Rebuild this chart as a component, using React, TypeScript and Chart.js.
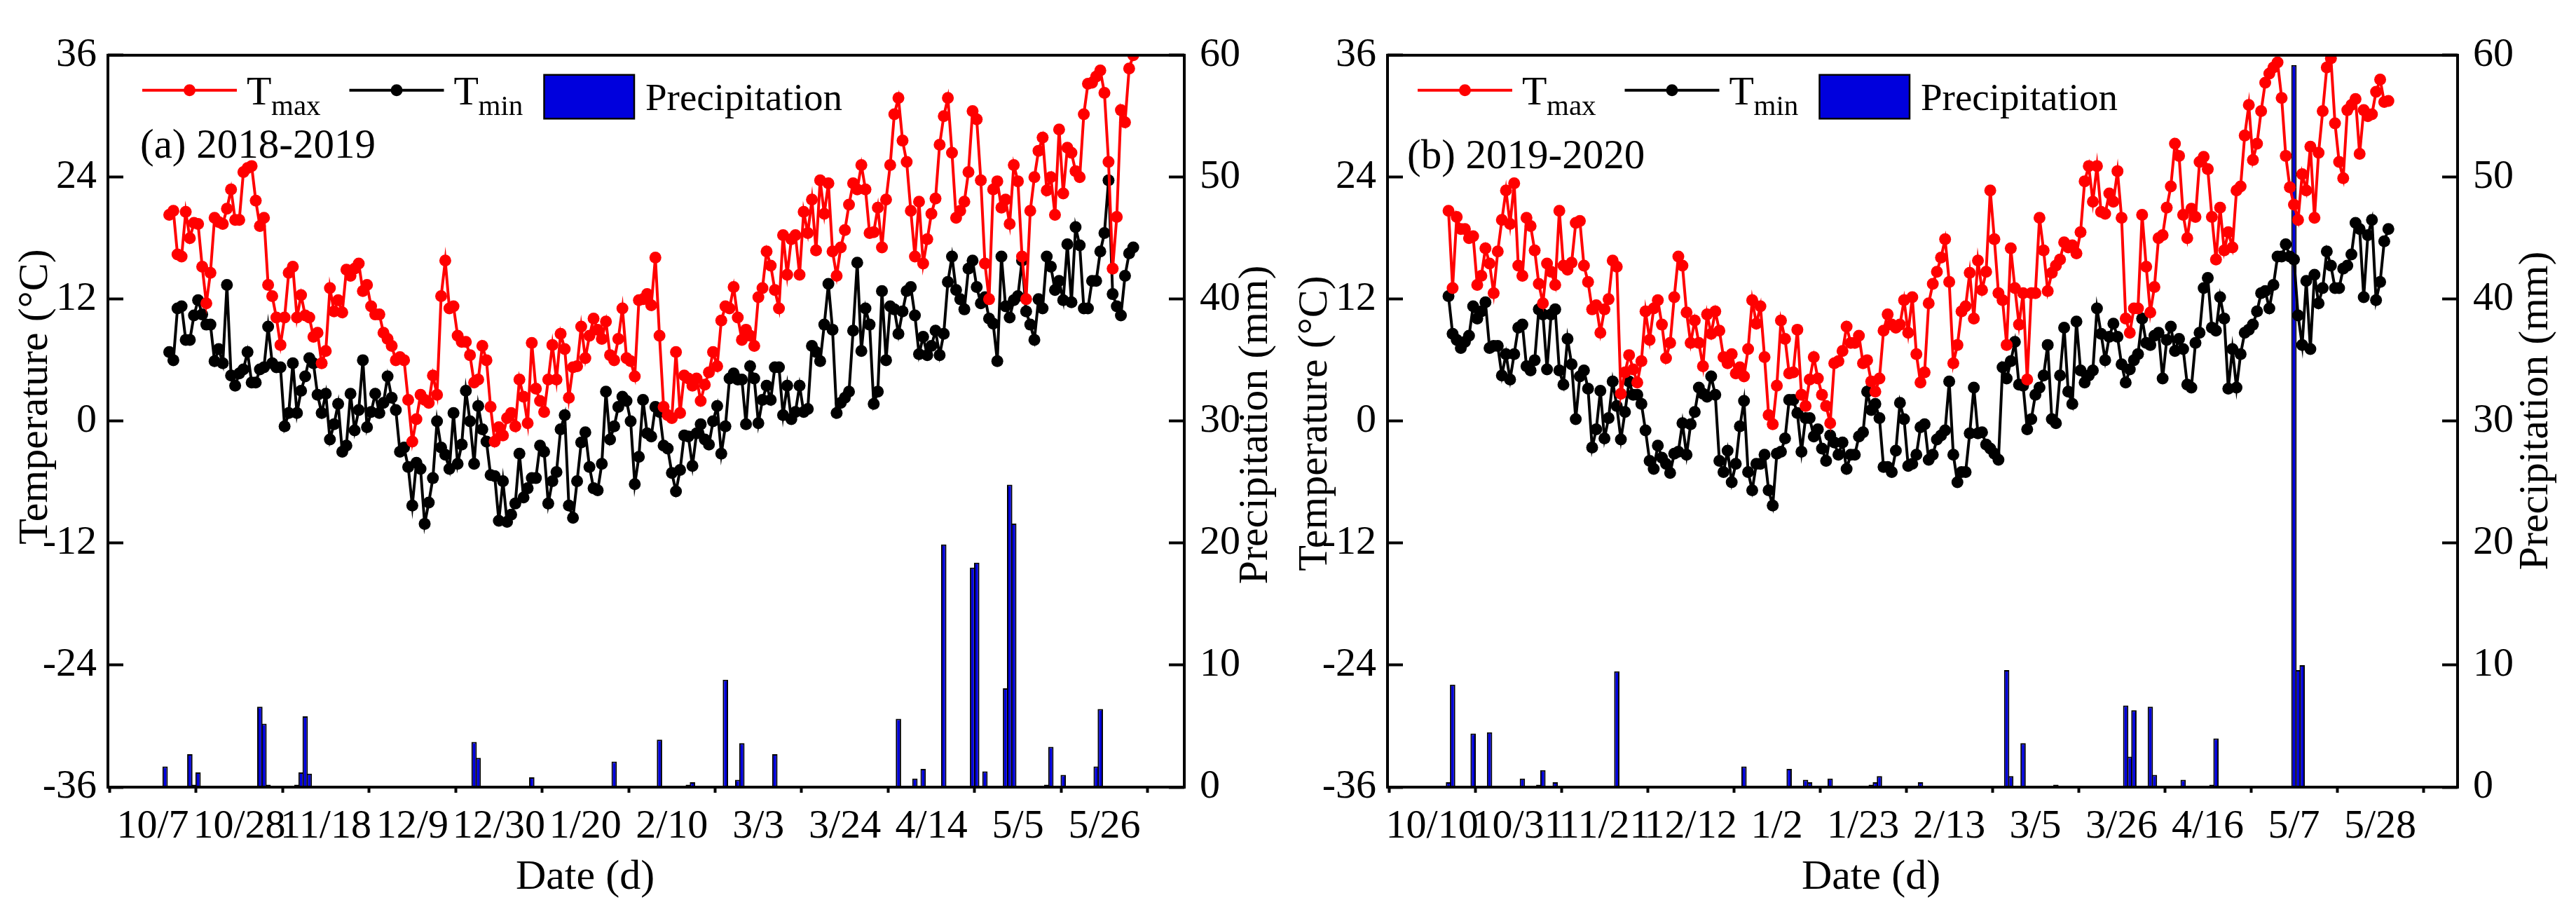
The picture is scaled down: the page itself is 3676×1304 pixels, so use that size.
import React, { useEffect, useRef } from "react";
import { Chart, registerables } from "chart.js";

Chart.register(...registerables);

const SERIF = "'Liberation Serif', 'Times New Roman', Times, serif";
const RED = "#ff0000";
const BLACK = "#000000";
const BLUE = "#0000dd";

const W = 1838;
const H = 1304;
const PLOT_TOP = 47;
const PLOT_BOTTOM = 1123;

const TICK_STEP_DAYS = 21;
const tempTicks = [-36, -24, -12, 0, 12, 24, 36];
const rainTicks = [0, 10, 20, 30, 40, 50, 60];
const legendNames = [["T", "max"], ["T", "min"], ["Precipitation", ""]];

// ---------- (a) 2018-2019 : day 0 = 10/7 ----------
const dateTicksA = ["10/7", "10/28", "11/18", "12/9", "12/30", "1/20", "2/10", "3/3", "3/24", "4/14", "5/5", "5/26"];
const firstDayA = 4;
const tmaxA = [
  20.3, 20.7, 16.4, 16.2, 20.6, 18.0, 19.5, 19.4, 15.2, 11.6,
  14.6, 20.0, 19.6, 19.4, 20.9, 22.8, 19.8, 19.8, 24.5, 24.9,
  25.1, 21.7, 19.2, 20.0, 13.4, 12.3, 10.2, 7.5, 10.2, 14.6,
  15.2, 10.2, 12.4, 10.4, 10.2, 8.3, 8.7, 5.7, 6.9, 13.1,
  10.8, 11.9, 10.7, 14.9, 14.3, 15.0, 15.5, 12.8, 13.4, 11.3,
  10.5, 10.5, 8.7, 8.1, 7.4, 6.0, 6.3, 6.0, 2.1, -2.0,
  0.2, 2.6, 2.1, 1.8, 4.5, 2.6, 12.3, 15.8, 11.1, 11.3,
  8.4, 7.8, 7.8, 6.5, 3.8, 4.1, 7.4, 6.0, 1.4, -2.0,
  -0.6, -1.4, 0.3, 0.8, -0.5, 4.1, 2.4, -0.2, 7.7, 3.2,
  2.0, 0.9, 4.1, 7.5, 4.1, 8.6, 7.1, 2.3, 5.3, 5.4,
  9.3, 6.2, 8.4, 10.1, 9.0, 8.1, 9.8, 6.5, 6.0, 8.1,
  11.1, 6.2, 5.9, 4.4, 11.9, 12.0, 12.5, 11.4, 16.1,
  8.4, 1.4, 0.6, 0.3, 6.8, 0.8, 4.5, 4.2, 3.5, 4.2,
  2.0, 3.6, 4.8, 6.8, 5.4, 9.9, 11.3, 11.1, 13.2, 10.2,
  8.0, 9.0, 8.4, 7.4, 12.2, 13.1, 16.7, 15.3, 12.9, 11.1,
  18.3, 14.4, 17.9, 18.3, 14.4, 20.6, 18.5, 21.8, 16.8, 23.7,
  20.4, 23.4, 16.7, 14.3, 17.1, 18.8, 21.3, 23.4, 22.8, 25.2,
  22.8, 18.5, 18.6, 21.0, 17.1, 21.8, 25.2, 30.2, 31.8, 27.6,
  25.5, 20.7, 16.2, 21.6, 15.5, 17.9, 20.4, 21.9, 27.2, 30.0,
  31.8, 26.4, 20.0, 20.7, 21.6, 24.5, 30.5, 29.7, 23.7, 15.5,
  12.0, 22.8, 23.6, 21.0, 21.8, 19.4, 25.2, 23.6, 16.2, 12.0,
  20.7, 24.0, 26.6, 27.9, 22.7, 24.0, 20.3, 28.7, 22.4, 26.9,
  26.4, 24.6, 24.0, 30.2, 33.2, 33.3, 33.9, 34.5, 32.3, 25.5,
  15.0, 20.1, 30.6, 29.4, 34.7, 36.0,
];
const tminA = [
  6.8, 6.0, 11.1, 11.3, 8.0, 8.0, 10.4, 11.9, 10.5, 9.5,
  9.5, 5.9, 7.1, 5.7, 13.4, 4.5, 3.5, 4.7, 5.1, 6.8,
  3.8, 3.8, 5.1, 5.3, 9.3, 5.7, 5.3, 5.3, -0.5, 0.8,
  5.7, 0.8, 3.0, 4.4, 6.2, 5.7, 2.6, 0.8, 2.7, -1.8,
  -0.3, 1.7, -3.0, -2.4, 2.7, -0.9, 1.1, 6.0, -0.6, 0.9,
  2.7, 0.8, 1.8, 4.4, 2.3, 1.1, -3.0, -2.6, -4.5, -8.3,
  -4.1, -4.7, -10.1, -8.0, -5.6, 0.0, -2.6, -3.3, -4.7, 0.8,
  -4.2, -2.3, 3.0, 0.0, -4.2, 1.5, -0.8, -2.0, -5.3, -5.4,
  -9.8, -5.9, -9.9, -9.2, -8.1, -3.2, -7.5, -6.6, -5.6, -5.6,
  -2.4, -3.0, -8.1, -5.9, -5.0, -0.8, 0.6, -8.3, -9.5, -5.9,
  -2.1, -1.1, -4.5, -6.6, -6.8, -4.2, 2.9, -1.8, -0.5, 1.4,
  2.4, 2.0, 0.0, -6.2, -3.5, 2.1, -1.2, -1.5, 1.4,
  0.9, -2.4, -2.7, -5.1, -6.9, -4.8, -1.4, -1.5, -4.4, -1.2,
  -0.3, -1.8, -2.3, 0.0, 1.5, -3.2, -0.5, 4.2, 4.7, 4.1,
  4.1, -0.3, 5.4, 4.2, -0.2, 2.1, 3.5, 2.1, 5.3, 5.3,
  0.6, 3.5, 0.2, 0.9, 3.5, 0.9, 1.2, 7.4, 6.8, 5.9,
  9.5, 13.5, 9.0, 0.8, 1.8, 2.3, 2.9, 8.9, 15.6, 6.9,
  11.1, 9.5, 1.7, 2.9, 12.8, 6.0, 11.3, 11.0, 8.6, 10.8,
  12.8, 13.2, 10.4, 6.6, 8.3, 6.5, 7.4, 8.9, 6.5, 8.6,
  13.7, 16.2, 12.9, 12.0, 11.0, 15.0, 15.8, 13.2, 11.6, 12.2,
  10.1, 9.6, 5.9, 16.2, 11.3, 10.2, 11.9, 12.3, 15.8, 10.8,
  9.5, 8.0, 12.0, 11.1, 16.2, 15.2, 12.9, 13.8, 11.9, 17.4,
  11.7, 19.1, 17.3, 11.1, 11.1, 13.8, 13.8, 16.7, 18.5, 23.7,
  12.5, 11.3, 10.4, 14.3, 16.5, 17.1,
];
const rainDayA = [3, 9, 10, 11, 26, 27, 28, 31, 35, 36, 37, 38, 78, 79, 92, 112, 123, 130, 131, 139, 142, 143, 151, 174, 181, 183, 184, 185, 187, 192, 199, 200, 202, 207, 208, 209, 216, 217, 218, 221, 229, 230];
const rainA = [1.7, 2.7, 0.2, 1.2, 6.6, 5.2, 0.2, 0.1, 0.2, 1.2, 5.8, 1.1, 3.7, 2.4, 0.8, 2.1, 3.9, 0.2, 0.4, 8.8, 0.6, 3.6, 2.7, 0.1, 5.6, 0.1, 0.1, 0.7, 1.5, 19.9, 18.0, 18.4, 1.3, 8.1, 24.8, 21.6, 0.1, 0.2, 3.3, 1.0, 1.7, 6.4];

// ---------- (b) 2019-2020 : day 0 = 10/10 ----------
const dateTicksB = ["10/10", "10/31", "11/21", "12/12", "1/2", "1/23", "2/13", "3/5", "3/26", "4/16", "5/7", "5/28"];
const firstDayB = 4;
const tmaxB = [
  20.7, 13.1, 20.1, 18.9, 18.9, 18.0, 18.2, 13.4, 14.3, 17.0,
  15.5, 12.6, 16.7, 19.8, 22.7, 19.4, 23.4, 15.3, 14.3, 20.0,
  19.2, 16.8, 13.5, 11.6, 15.5, 14.7, 13.4, 20.7, 15.3, 14.9,
  15.6, 19.5, 19.7, 15.3, 13.7, 11.0, 11.4, 8.7, 11.0, 12.0,
  15.8, 15.2, 2.7, 4.8, 6.5, 5.1, 3.8, 5.9, 10.8, 8.0,
  11.1, 11.9, 9.5, 6.2, 7.7, 12.2, 16.2, 15.3, 10.7, 7.7,
  9.9, 7.7, 5.4, 10.5, 8.6, 10.8, 8.9, 6.3, 5.7, 6.6,
  4.7, 5.3, 4.4, 7.1, 11.9, 9.6, 11.3, 6.3, 0.6, -0.3,
  3.5, 9.9, 8.1, 4.7, 4.8, 9.0, 2.6, 1.5, 4.1, 6.3,
  4.2, 2.6, 1.5, -0.2, 5.7, 5.9, 6.9, 9.3, 7.7, 7.7,
  8.4, 5.7, 6.0, 3.9, 2.9, 4.2, 8.9, 10.5, 9.5, 9.2,
  9.5, 11.9, 8.7, 12.2, 6.6, 3.8, 4.8, 11.6, 13.5, 14.7,
  16.1, 17.9, 13.7, 5.7, 7.5, 10.8, 11.3, 14.6, 10.1, 15.8,
  12.9, 14.7, 22.7, 17.9, 12.6, 11.9, 7.5, 17.0, 13.1, 9.5,
  12.6, 4.1, 12.6, 12.6, 20.0, 16.8, 12.8, 14.6, 15.3, 15.9,
  17.6, 17.1, 17.3, 16.5, 18.6, 23.6, 25.1, 21.6, 25.1, 20.6,
  20.4, 22.4, 21.6, 24.6, 20.0, 10.1, 8.7, 11.1, 11.1, 20.3,
  15.2, 10.7, 13.2, 18.0, 18.3, 21.0, 23.1, 27.3, 26.1, 20.3,
  18.0, 20.9, 20.1, 25.5, 26.0, 24.8, 20.1, 15.9, 21.0, 16.8,
  18.6, 17.1, 22.7, 23.1, 28.1, 31.1, 25.7, 27.3, 30.5, 33.3,
  34.2, 34.8, 35.3, 31.8, 26.1, 23.0, 21.3, 19.8, 24.3, 22.7,
  27.0, 20.0, 26.4, 30.5, 34.8, 35.7, 29.3, 25.5, 23.9, 30.6,
  31.1, 31.7, 26.3, 30.6, 30.0, 30.2, 32.4, 33.6, 31.4, 31.5,
];
const tminB = [
  12.3, 8.6, 8.0, 7.2, 7.8, 8.4, 11.3, 10.1, 10.8, 11.7,
  7.2, 7.4, 7.4, 4.5, 6.6, 4.1, 6.6, 9.2, 9.5, 5.4,
  5.0, 6.0, 11.0, 10.5, 5.1, 10.5, 11.0, 5.0, 3.6, 8.1,
  5.6, 0.2, 4.4, 5.0, 3.2, -2.6, -0.8, 3.0, -1.7, 0.3,
  3.9, 1.5, -1.8, 0.9, 3.9, 2.6, 2.6, 1.7, -0.9, -3.9,
  -4.7, -2.4, -3.6, -4.2, -5.1, -3.2, -3.0, -0.2, -3.3, -0.3,
  0.9, 3.3, 2.7, 2.4, 4.4, 2.6, -3.9, -5.0, -2.9, -6.0,
  -4.2, -0.5, 2.0, -5.0, -6.8, -4.2, -4.2, -3.3, -6.8, -8.3,
  -3.2, -3.0, -1.7, 2.1, 2.1, 0.8, -3.0, 0.3, 0.3, -1.5,
  -0.8, -2.7, -3.9, -1.4, -2.1, -3.3, -2.1, -4.7, -3.3, -3.3,
  -1.5, -1.1, 2.9, 1.1, 1.7, 0.3, -4.5, -4.5, -5.0, -2.9,
  1.8, 0.2, -4.4, -4.2, -3.3, -0.6, -0.3, -3.8, -3.3, -1.8,
  -1.4, -0.9, 3.9, -3.3, -6.0, -5.0, -5.0, -1.2, 3.3, -1.2,
  -1.1, -2.3, -2.7, -3.2, -3.8, 5.3, 4.2, 5.9, 7.8, 3.6,
  3.5, -0.8, 0.2, 2.6, 3.3, 4.5, 7.5, 0.2, -0.2, 4.5,
  9.2, 2.9, 1.7, 9.8, 5.0, 3.8, 4.5, 5.0, 11.1, 8.6,
  6.0, 8.3, 9.6, 8.3, 5.6, 3.8, 5.1, 6.0, 6.6, 10.1,
  7.7, 7.5, 8.4, 8.7, 4.2, 8.0, 9.3, 6.9, 8.1, 7.1,
  3.6, 3.3, 7.7, 8.7, 13.1, 14.1, 9.2, 8.9, 12.2, 10.1,
  3.2, 7.1, 3.3, 6.6, 8.7, 9.0, 9.5, 10.8, 12.6, 12.8,
  11.1, 13.4, 16.2, 16.2, 17.4, 16.2, 15.9, 10.4, 7.5, 13.8,
  7.1, 14.4, 11.6, 13.1, 16.7, 15.3, 13.1, 13.1, 15.0, 15.3,
  16.4, 19.5, 18.9, 12.2, 18.3, 19.8, 11.9, 13.7, 17.7, 18.9,
];
const rainDayB = [4, 5, 6, 10, 14, 22, 26, 27, 30, 38, 45, 76, 87, 91, 92, 97, 106, 107, 108, 109, 118, 119, 140, 141, 144, 152, 169, 170, 171, 175, 176, 183, 190, 191, 210, 211, 212];
const rainB = [0.4, 8.4, 0.1, 4.4, 4.5, 0.7, 0.2, 1.4, 0.4, 0.1, 9.5, 1.7, 1.5, 0.6, 0.4, 0.7, 0.1, 0.2, 0.4, 0.9, 0.1, 0.4, 9.6, 0.9, 3.6, 0.2, 6.7, 2.5, 6.3, 6.6, 1.0, 0.6, 0.2, 4.0, 59.2, 9.6, 10.0];

type PanelSpec = {
  id: string;
  label: string;
  dates: string[];
  first: number;
  tmax: number[];
  tmin: number[];
  rainDay: number[];
  rain: number[];
  span: number;
  canvasLeft: number;
  plotLeft: number;
  plotRight: number;
  legendDx: number;
  labelDx: number;
  labelDy: number;
  tempTitleY: number;
  rainTitleY: number;
  rainTitleDx: number;
  dateTitleDx: number;
};

const panels: PanelSpec[] = [
  {
    id: "a", label: "(a) 2018-2019", dates: dateTicksA, first: firstDayA,
    tmax: tmaxA, tmin: tminA, rainDay: rainDayA, rain: rainA, span: 239.5,
    canvasLeft: 0, plotLeft: 154, plotRight: 1690,
    legendDx: 49, labelDx: 46, labelDy: 146, tempTitleY: 566, rainTitleY: 606, rainTitleDx: 102, dateTitleDx: 681,
  },
  {
    id: "b", label: "(b) 2019-2020", dates: dateTicksB, first: firstDayB,
    tmax: tmaxB, tmin: tminB, rainDay: rainDayB, rain: rainB, span: 239,
    canvasLeft: 1838, plotLeft: 142, plotRight: 1669,
    legendDx: 43, labelDx: 28, labelDy: 161, tempTitleY: 604, rainTitleY: 586, rainTitleDx: 112, dateTitleDx: 690,
  },
];

function Panel({ p }: { p: PanelSpec }) {
  const ref = useRef<HTMLCanvasElement | null>(null);

  useEffect(() => {
    const canvas = ref.current;
    if (!canvas) return;

    const decor = {
      id: "decor_" + p.id,
      afterDraw(chart: any) {
        const ctx: CanvasRenderingContext2D = chart.ctx;
        const a = chart.chartArea;
        ctx.save();
        // frame
        ctx.strokeStyle = BLACK;
        ctx.lineWidth = 4;
        ctx.strokeRect(a.left, a.top, a.right - a.left, a.bottom - a.top);

        // legend
        const L = a.left + p.legendDx;
        const T = a.top;
        const lineY = T + 50;
        const lineColors = [RED, BLACK];
        const lineOffsets = [0, 295.5];
        for (let i = 0; i < 2; i++) {
          const x0 = L + lineOffsets[i];
          ctx.strokeStyle = lineColors[i];
          ctx.fillStyle = lineColors[i];
          ctx.lineWidth = 4;
          ctx.beginPath();
          ctx.moveTo(x0, lineY);
          ctx.lineTo(x0 + 135, lineY);
          ctx.stroke();
          ctx.beginPath();
          ctx.arc(x0 + 67.5, lineY, 8.5, 0, Math.PI * 2);
          ctx.fill();
          ctx.fillStyle = BLACK;
          ctx.textAlign = "left";
          ctx.textBaseline = "alphabetic";
          ctx.font = `58px ${SERIF}`;
          ctx.fillText(legendNames[i][0], x0 + 149, T + 70);
          ctx.font = `41px ${SERIF}`;
          ctx.fillText(legendNames[i][1], x0 + 184, T + 85);
        }
        const bx = L + 573.5;
        ctx.fillStyle = BLUE;
        ctx.fillRect(bx, T + 28, 128.5, 62.5);
        ctx.strokeStyle = BLACK;
        ctx.lineWidth = 2.5;
        ctx.strokeRect(bx, T + 28, 128.5, 62.5);
        ctx.fillStyle = BLACK;
        ctx.font = `55px ${SERIF}`;
        ctx.fillText(legendNames[2][0], L + 718, T + 78);

        // panel label
        ctx.font = `59px ${SERIF}`;
        ctx.fillText(p.label, a.left + p.labelDx, T + p.labelDy);

        // axis titles
        ctx.font = `60px ${SERIF}`;
        ctx.textAlign = "center";
        ctx.fillText("Date (d)", a.left + p.dateTitleDx, a.bottom + 145);

        ctx.textBaseline = "middle";
        ctx.save();
        ctx.translate(a.left - 103, p.tempTitleY);
        ctx.rotate(-Math.PI / 2);
        ctx.fillText("Temperature (°C)", 0, 0);
        ctx.restore();

        ctx.save();
        ctx.translate(a.right + p.rainTitleDx, p.rainTitleY);
        ctx.rotate(-Math.PI / 2);
        ctx.fillText("Precipitation (mm)", 0, 0);
        ctx.restore();

        ctx.restore();
      },
    };

    const tickFont = { family: SERIF, size: 58 };

    const chart = new Chart(canvas, {
      type: "line",
      data: {
        datasets: [
          {
            type: "line",
            label: "Tmax",
            data: p.tmax.map((y, i) => ({ x: p.first + i, y })),
            borderColor: RED,
            backgroundColor: RED,
            borderWidth: 4,
            pointRadius: 8.5,
            pointHoverRadius: 8.5,
            pointBackgroundColor: RED,
            pointBorderWidth: 0,
            tension: 0,
            yAxisID: "y",
          },
          {
            type: "line",
            label: "Tmin",
            data: p.tmin.map((y, i) => ({ x: p.first + i, y })),
            borderColor: BLACK,
            backgroundColor: BLACK,
            borderWidth: 4,
            pointRadius: 8.5,
            pointHoverRadius: 8.5,
            pointBackgroundColor: BLACK,
            pointBorderWidth: 0,
            tension: 0,
            yAxisID: "y",
          },
          {
            type: "bar",
            label: "Precipitation",
            data: p.rainDay.map((x, i) => ({ x, y: p.rain[i] })),
            backgroundColor: BLUE,
            borderColor: BLACK,
            borderWidth: 2,
            barPercentage: 1.3,
            categoryPercentage: 1,
            yAxisID: "y1",
          },
        ] as any,
      },
      options: {
        responsive: false,
        animation: false,
        devicePixelRatio: 1,
        events: [],
        layout: { padding: { top: PLOT_TOP, left: 0, right: 0, bottom: 0 } },
        plugins: {
          legend: { display: false },
          tooltip: { enabled: false },
        },
        scales: {
          x: {
            type: "linear",
            position: "bottom",
            min: 0,
            max: p.span,
            afterBuildTicks: (s: any) => {
              s.ticks = p.dates.map((_, i) => ({ value: i * TICK_STEP_DAYS }));
            },
            afterFit: (s: any) => {
              s.height = H - PLOT_BOTTOM;
            },
            ticks: {
              autoSkip: false,
              maxRotation: 0,
              minRotation: 0,
              padding: 14,
              color: BLACK,
              font: tickFont,
              callback: (_v: any, i: number) => p.dates[i],
            },
            grid: { display: true, drawOnChartArea: false, drawTicks: true, tickLength: 8, tickWidth: 4, tickColor: BLACK },
            border: { display: false },
          },
          y: {
            type: "linear",
            position: "left",
            min: -36,
            max: 36,
            afterBuildTicks: (s: any) => {
              s.ticks = tempTicks.map((v) => ({ value: v }));
            },
            afterFit: (s: any) => {
              s.width = p.plotLeft;
            },
            ticks: { padding: 38, color: BLACK, font: tickFont, callback: (v: any) => String(v) },
            grid: { display: true, drawOnChartArea: false, drawTicks: true, tickLength: -22, tickWidth: 4, tickColor: BLACK },
            border: { display: false },
          },
          y1: {
            type: "linear",
            position: "right",
            min: 0,
            max: 60,
            afterBuildTicks: (s: any) => {
              s.ticks = rainTicks.map((v) => ({ value: v }));
            },
            afterFit: (s: any) => {
              s.width = W - p.plotRight;
            },
            ticks: { padding: 44, color: BLACK, font: tickFont, callback: (v: any) => String(v) },
            grid: { display: true, drawOnChartArea: false, drawTicks: true, tickLength: -22, tickWidth: 4, tickColor: BLACK },
            border: { display: false },
          },
        },
      } as any,
      plugins: [decor],
    });

    return () => chart.destroy();
  }, [p]);

  return (
    <canvas
      ref={ref}
      width={W}
      height={H}
      style={{ position: "absolute", left: p.canvasLeft, top: 0, width: W, height: H, display: "block" }}
    />
  );
}

export default function App() {
  return (
    <div style={{ position: "absolute", left: 0, top: 0, width: 3676, height: 1304, background: "#ffffff", overflow: "hidden" }}>
      {panels.map((p) => (
        <Panel key={p.id} p={p} />
      ))}
    </div>
  );
}
